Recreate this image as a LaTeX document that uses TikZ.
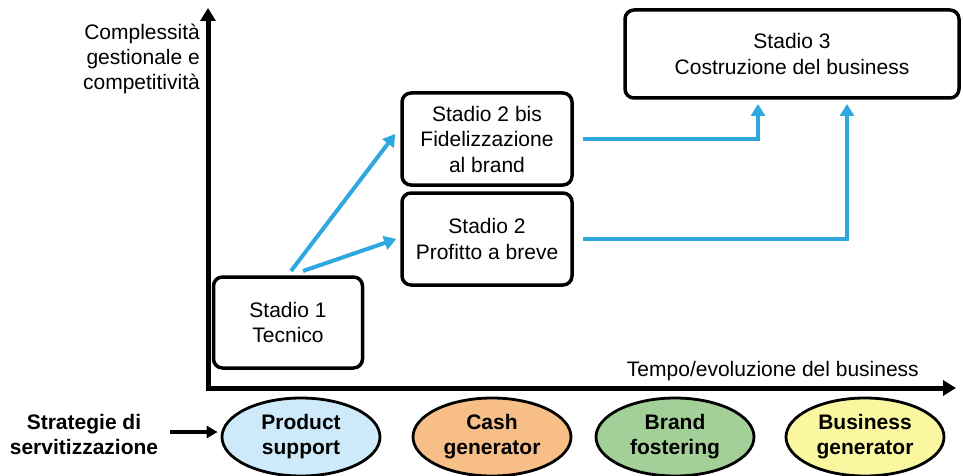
\documentclass[tikz,border=0pt]{standalone}
\usepackage{fontspec}
\setmainfont{Liberation Sans}
\usetikzlibrary{arrows.meta,shapes.geometric}
\definecolor{flowblue}{RGB}{46,168,223}
\definecolor{fillsupport}{RGB}{206,234,250}
\definecolor{fillcash}{RGB}{247,190,135}
\definecolor{fillbrand}{RGB}{163,208,153}
\definecolor{fillbusiness}{RGB}{251,246,160}
\tikzset{
  stagebox/.style={draw=black, line width=3.5pt, rounded corners=9pt, align=center,
    inner sep=0pt, font=\fontsize{21}{25.5}\selectfont},
  strategy/.style={ellipse, draw=black, line width=2.8pt, align=center, inner sep=0pt,
    minimum width=158pt, minimum height=78pt, font=\bfseries\fontsize{21}{25}\selectfont},
  axis/.style={line width=5pt, -{Triangle[length=13pt,width=15pt]}},
  flow/.style={draw=flowblue, line width=4pt, -{Triangle[length=12pt,width=14pt]}},
  plain/.style={font=\fontsize{21}{25}\selectfont, inner sep=0pt}
}
\begin{document}
\begin{tikzpicture}[x=1pt,y=-1pt]
  \useasboundingbox (0,0) rectangle (963,476);
  % axes
  \coordinate (orig) at (208,388);
  \coordinate (ytip) at (208,8);
  \coordinate (xtip) at (956,388);
  \draw[axis] (orig) -- (ytip);
  \draw[axis] ([xshift=-2.5pt]orig) -- (xtip);
  \node[plain, align=right, anchor=north east] (ylab) at (200,24)
    {Complessità\\gestionale e\\competitività};
  \node[plain, anchor=east] (xlab) at (919,371) {Tempo/evoluzione del business};
  % stages
  \node[stagebox, minimum width=149pt, minimum height=91pt] (s1) at (288,322.5) {Stadio 1\\Tecnico};
  \node[stagebox, minimum width=170pt, minimum height=92pt] (s2b) at (487,139) {Stadio 2 bis\\Fidelizzazione\\al brand};
  \node[stagebox, minimum width=170pt, minimum height=92pt] (s2) at (487,239) {Stadio 2\\Profitto a breve};
  \node[stagebox, minimum width=334pt, minimum height=88pt] (s3) at (792,54) {Stadio 3\\Costruzione del business};
  % flows
  \coordinate (o1) at (291,271);
  \coordinate (o2) at (303,271);
  \coordinate (t1) at (758,104);
  \coordinate (t2) at (847,104);
  \draw[flow] (o1) -- ([shift={(-5pt,5pt)}]s2b.west);
  \draw[flow] (o2) -- ([xshift=-4pt]s2.west);
  \draw[flow] ([xshift=9pt]s2b.east) -| (t1);
  \draw[flow] ([xshift=9pt]s2.east) -| (t2);
  % strategies
  \node[font=\bfseries\fontsize{21}{25}\selectfont, align=center, inner sep=0pt] (strat) at (84,434)
    {Strategie di\\servitizzazione};
  \node[strategy, fill=fillsupport] (ps) at (301,437) {Product\\support};
  \node[strategy, fill=fillcash] (cg) at (492,437) {Cash\\generator};
  \node[strategy, fill=fillbrand] (bf) at (675,437) {Brand\\fostering};
  \node[strategy, fill=fillbusiness] (bg) at (865,437) {Business\\generator};
  \coordinate (sa) at (170,432);
  \draw[line width=3.5pt, -{Triangle[length=11pt,width=12pt]}] (sa) -- ([xshift=-3pt]sa -| ps.west);
\end{tikzpicture}
\end{document}
